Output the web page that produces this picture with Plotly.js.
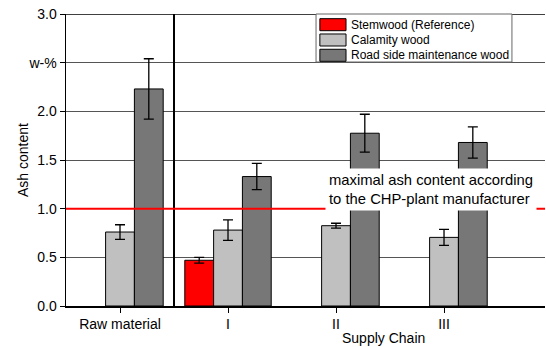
<!DOCTYPE html>
<html>
<head>
<meta charset="utf-8">
<script src="https://cdn.plot.ly/plotly-3.0.1.min.js"></script>
<style>
  html, body { margin: 0; padding: 0; background: #fff; overflow: hidden; }
  #chart { width: 546px; height: 347px; }
</style>
</head>
<body>
<div id="chart"></div>
<script>
// Ash content per supply chain stage (w-%), mean values with standard deviations
const categories = ['Raw material', 'I', 'II', 'III'];

const stemwood = [null, 0.47, null, null];
const stemwoodErr = [null, 0.03, null, null];

const calamity = [0.76, 0.78, 0.825, 0.705];
const calamityErr = [0.075, 0.105, 0.025, 0.083];

const roadside = [2.23, 1.33, 1.775, 1.68];
const roadsideErr = [0.31, 0.135, 0.195, 0.16];

const seriesNames = ['Stemwood (Reference)', 'Calamity wood', 'Road side maintenance wood'];
const seriesColors = ['#ff0000', '#c0c0c0', '#777777'];

// limit given by the CHP-plant manufacturer
const maxAsh = 1.0;

const yTickVals = [0, 0.5, 1.0, 1.5, 2.0, 2.5, 3.0];
const yTickText = ['0.0', '0.5', '1.0', '1.5', '2.0', 'w-%', '3.0'];

const FONT = 'Liberation Sans, Arial, sans-serif';

function barTrace(name, values, errors, color) {
  return {
    type: 'bar',
    name: name,
    x: categories,
    y: values,
    marker: { color: color, line: { color: '#000', width: 1 } },
    error_y: {
      type: 'data', array: errors, visible: true,
      color: '#000', thickness: 1.3, width: 5
    },
    showlegend: false
  };
}

const data = [
  barTrace(seriesNames[0], stemwood, stemwoodErr, seriesColors[0]),
  barTrace(seriesNames[1], calamity, calamityErr, seriesColors[1]),
  barTrace(seriesNames[2], roadside, roadsideErr, seriesColors[2])
];

// compact boxed legend with wide swatches, placed in the upper right of the plot
const legendBox = { x0: 0.522, x1: 0.931, y0: 0.8356, y1: 1 };
const legendRowY = [0.9634, 0.9110, 0.8586];
const swatchX = [0.530, 0.5846];
const swatchHalf = 0.0206;
const legendTextX = 0.591;

const legendShapes = [
  { type: 'rect', xref: 'paper', yref: 'paper',
    x0: legendBox.x0, x1: legendBox.x1, y0: legendBox.y0, y1: legendBox.y1,
    fillcolor: '#fff', line: { color: '#666', width: 1 }, layer: 'above' }
].concat(seriesColors.map((c, i) => ({
  type: 'rect', xref: 'paper', yref: 'paper',
  x0: swatchX[0], x1: swatchX[1],
  y0: legendRowY[i] - swatchHalf, y1: legendRowY[i] + swatchHalf,
  fillcolor: c, line: { color: '#000', width: 1 }, layer: 'above'
})));

const legendLabels = seriesNames.map((n, i) => ({
  xref: 'paper', yref: 'paper', x: legendTextX, y: legendRowY[i],
  xanchor: 'left', yanchor: 'middle', text: n, showarrow: false,
  font: { family: FONT, size: 12, color: '#000' }
}));

const layout = {
  width: 546,
  height: 347,
  margin: { l: 66, r: 1, t: 14, b: 41, pad: 0 },
  paper_bgcolor: '#fff',
  plot_bgcolor: '#fff',
  font: { family: FONT, size: 14, color: '#000' },
  barmode: 'group',
  bargap: 0.2,
  bargroupgap: 0,
  showlegend: false,
  xaxis: {
    type: 'category',
    range: [-0.5, 3.935],
    showgrid: false,
    zeroline: false,
    showline: true, linecolor: '#000', linewidth: 1.5,
    ticks: 'outside', ticklen: 5, tickwidth: 1, tickcolor: '#000',
    tickfont: { family: FONT, size: 14, color: '#000' },
    fixedrange: true
  },
  yaxis: {
    range: [0, 3],
    tickvals: yTickVals,
    ticktext: yTickText,
    showgrid: true, gridcolor: '#555', gridwidth: 1,
    zeroline: false,
    showline: true, linecolor: '#000', linewidth: 1.5,
    ticks: 'outside', ticklen: 5, tickwidth: 1, tickcolor: '#000',
    tickfont: { family: FONT, size: 14, color: '#000' },
    fixedrange: true
  },
  shapes: [
    // top frame line
    { type: 'line', xref: 'paper', yref: 'y', x0: 0, x1: 1, y0: 3, y1: 3,
      line: { color: '#000', width: 1.5 }, layer: 'above' },
    // separator between raw material and the supply chain stages
    { type: 'line', xref: 'x', yref: 'paper', x0: 0.5, x1: 0.5, y0: 0, y1: 1,
      line: { color: '#000', width: 2 }, layer: 'above' },
    // maximal ash content threshold
    { type: 'line', xref: 'paper', yref: 'y', x0: 0, x1: 1, y0: maxAsh, y1: maxAsh,
      line: { color: '#ff0000', width: 2 }, layer: 'above' }
  ].concat(legendShapes),
  annotations: [
    {
      xref: 'x', yref: 'y', x: 2.88, y: 1.195,
      xanchor: 'center', yanchor: 'middle',
      text: 'maximal ash content according<br>to the CHP-plant manufacturer',
      showarrow: false, align: 'left',
      bgcolor: '#fff', borderpad: 3,
      font: { family: FONT, size: 14.8, color: '#000' }
    },
    {
      xref: 'paper', yref: 'paper', x: 0.662, y: -0.1096,
      xanchor: 'center', yanchor: 'middle',
      text: 'Supply Chain', showarrow: false,
      font: { family: FONT, size: 14, color: '#000' }
    },
    {
      xref: 'paper', yref: 'paper', x: -0.0898, y: 0.5,
      xanchor: 'center', yanchor: 'middle', textangle: -90,
      text: 'Ash content', showarrow: false,
      font: { family: FONT, size: 14, color: '#000' }
    }
  ].concat(legendLabels)
};

Plotly.newPlot('chart', data, layout, { displayModeBar: false, staticPlot: true });
</script>
</body>
</html>
